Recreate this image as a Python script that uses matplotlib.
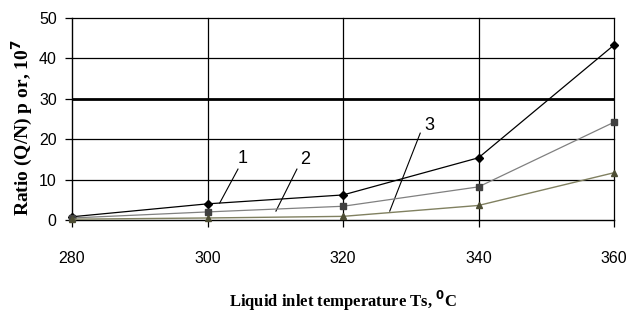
import matplotlib
matplotlib.use("Agg")
import matplotlib.pyplot as plt
from matplotlib import font_manager

temps = [280, 300, 320, 340, 360]
series1 = [0.8, 4.0, 6.2, 15.4, 43.3]
series2 = [0.5, 2.0, 3.4, 8.2, 24.2]
series3 = [0.2, 0.5, 0.9, 3.6, 11.7]
curve_labels = ["1", "2", "3"]
x_ticks = [280, 300, 320, 340, 360]
y_ticks = [0, 10, 20, 30, 40, 50]

sans = "Liberation Sans"
serif = "Liberation Serif"

fig = plt.figure(figsize=(6.36, 3.2), dpi=100)
ax = fig.add_axes([72/636, 1-220/320, (614-72)/636, (220-18)/320])

ax.set_xlim(280, 360)
ax.set_ylim(0, 50)

for yv in [10, 20, 40, 50]:
    ax.axhline(yv, color="black", lw=0.9, zorder=1, clip_on=False)
ax.axhline(30, color="black", lw=2.0, zorder=1)
for xv in [300, 320, 340, 360]:
    ax.axvline(xv, color="black", lw=0.9, zorder=1, clip_on=False)

for s in ["top", "right"]:
    ax.spines[s].set_visible(False)
ax.spines["left"].set_linewidth(1.0)
ax.spines["bottom"].set_linewidth(1.0)

ax.plot(temps, series1, color="black", lw=0.9, marker="D", ms=4, mfc="black", mec="black", zorder=3, clip_on=False)
ax.plot(temps, series2, color="#808080", lw=0.9, marker="s", ms=5, mfc="#404040", mec="#404040", zorder=3, clip_on=False)
ax.plot(temps, series3, color="#808060", lw=1.0, marker="^", ms=5, mfc="#4d4d33", mec="#4d4d33", zorder=3, clip_on=False)

ax.set_xticks(x_ticks)
ax.set_yticks(y_ticks)
ax.tick_params(axis="both", direction="out", length=5, width=0.9, color="black")
ax.tick_params(axis="x", pad=17)
ax.tick_params(axis="y", pad=6)
for lab in ax.get_xticklabels() + ax.get_yticklabels():
    lab.set_fontfamily(sans)
    lab.set_fontsize(11.5)

ax.set_xlabel("Liquid inlet temperature Ts, $^{\\mathbf{0}}$C", fontfamily=serif,
              fontweight="bold", fontsize=12, labelpad=17)
ax.set_ylabel("Ratio (Q/N) p or, 10$^{\\mathbf{7}}$", fontfamily=serif,
              fontweight="bold", fontsize=14)
ax.yaxis.set_label_coords(-0.068, 0.46)

ann = [
    ((305.2, 15.3), (301.8, 4.2), (304.5, 12.6)),
    ((314.4, 14.9), (310.1, 2.2), (313.2, 12.6)),
    ((332.7, 23.5), (326.9, 2.2), (331.4, 21.5)),
]
for lbl, (txt, end, start) in zip(curve_labels, ann):
    ax.text(txt[0], txt[1], lbl, fontfamily=sans, fontsize=13, ha="center", va="center")
    ax.plot([start[0], end[0]], [start[1], end[1]], color="black", lw=0.8, zorder=2)

fig.savefig("out.png", dpi=100)
